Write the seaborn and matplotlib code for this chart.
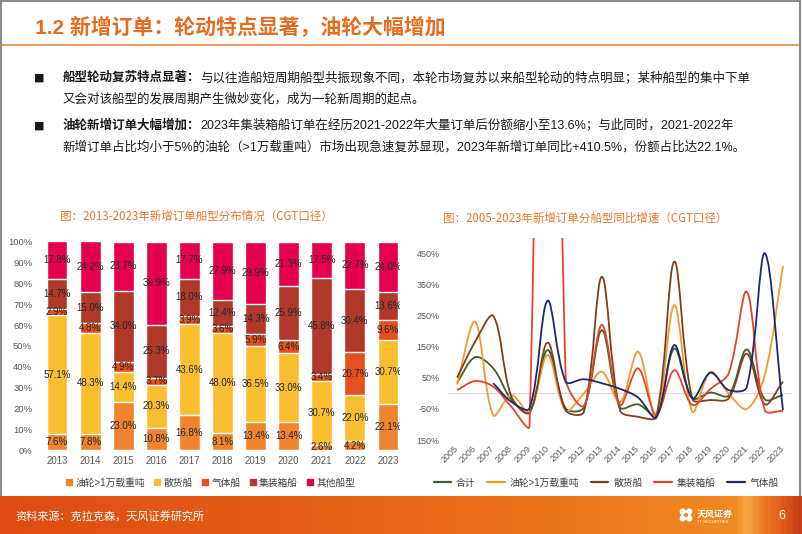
import numpy as np
import matplotlib
matplotlib.use("Agg")
import matplotlib.pyplot as plt
from matplotlib.path import Path
from matplotlib.patches import PathPatch, Rectangle, Ellipse
from matplotlib.lines import Line2D
from matplotlib.colors import LinearSegmentedColormap
import seaborn as sns

# ---- left chart: share of new orders by ship type (CGT, %) ----
share_years = ["2013", "2014", "2015", "2016", "2017", "2018",
               "2019", "2020", "2021", "2022", "2023"]
share_tanker = [7.6, 7.8, 23.0, 10.8, 16.8, 8.1, 13.4, 13.4, 2.6, 4.2, 22.1]
share_bulk = [57.1, 48.3, 14.4, 20.3, 43.6, 48.0, 36.5, 33.0, 30.7, 22.0, 30.7]
share_gas = [2.9, 4.8, 4.9, 3.7, 3.9, 3.6, 5.9, 6.4, 3.4, 20.7, 9.6]
share_container = [14.7, 15.0, 34.0, 25.3, 18.0, 12.4, 14.3, 25.9, 45.8, 30.4, 13.6]
share_other = [17.8, 24.2, 23.7, 39.9, 17.7, 27.9, 29.9, 21.3, 17.5, 22.7, 24.0]
share_names = ["油轮>1万载重吨", "散货船", "气体船", "集装箱船", "其他船型"]
share_ticks = [0, 10, 20, 30, 40, 50, 60, 70, 80, 90, 100]

# ---- right chart: yoy growth of new orders by ship type (CGT, %) ----
growth_years = ["2005", "2006", "2007", "2008", "2009", "2010", "2011",
                "2012", "2013", "2014", "2015", "2016", "2017", "2018",
                "2019", "2020", "2021", "2022", "2023"]
growth_total = [35, 117, 81, -20, -61, 140, -48, -46, 204, -45, -35,
                -70, 145, -16, 3, -7, 142, -19, -5]
growth_tanker = [29, 231, -70, -5, -59, 124, -55, 0, 70, -29, 135,
                 -80, 285, -59, 70, 0, -50, 60, 410.5]
growth_bulk = [51, 167, 250, -10, -62, 164, -54, -60, 376, -54, -75,
               -75, 425, -18, -21, -16, 128, -35, 38]
growth_container = [11, 40, 22, -43, -105, 4000, 50, -40, 221, -37, 81,
                    -69, 75, -37, 15, 65, 328, -54, -56]
growth_gas = [np.nan, np.nan, 33, -27, -48, 299, 38, 46, 33, 15, -13,
              -77, 156, -16, 67, 11, 20, 452, -54]
growth_names = ["合计", "油轮>1万载重吨", "散货船", "集装箱船", "气体船"]
growth_ticks = [-150, -50, 50, 150, 250, 350, 450]
growth_ticklabels = ["150%", "-50%", "50%", "150%", "250%", "350%", "450%"]

share_colors = ["#F0832E", "#FBBE30", "#E5501F", "#B0392B", "#E5004E"]
growth_colors = ["#3E5F2C", "#F59A2F", "#7E3F1D", "#E5432A", "#1D2B6C"]
ORANGE = "#E46C1E"
TICK = "#595959"

sns.set_style("white")
plt.rcParams["font.family"] = ["Liberation Sans", "Noto Sans CJK SC", "DejaVu Sans"]

W, H = 802, 534
fig = plt.figure(figsize=(W / 100, H / 100), dpi=100)


def fx(x):
    return x / W


def fy(y):
    return 1 - y / H


# ---- header ----
fig.text(fx(35), fy(28), "1.2 新增订单：轮动特点显著，油轮大幅增加", fontsize=15,
         color=ORANGE, fontweight="bold", va="center", ha="left")
fig.add_artist(Line2D([0, fx(800)], [fy(44.5), fy(44.5)], color="#E8853F", lw=1.2))

renderer = fig.canvas.get_renderer()
body = [
    (77.7, "船型轮动复苏特点显著：",
     "与以往造船短周期船型共振现象不同，本轮市场复苏以来船型轮动的特点明显；某种船型的集中下单"),
    (99.0, "", "又会对该船型的发展周期产生微妙变化，成为一轮新周期的起点。"),
    (125.3, "油轮新增订单大幅增加：",
     "2023年集装箱船订单在经历2021-2022年大量订单后份额缩小至13.6%；与此同时，2021-2022年"),
    (147.3, "", "新增订单占比均小于5%的油轮（>1万载重吨）市场出现急速复苏显现，2023年新增订单同比+410.5%，份额占比达22.1%。"),
]
for y, bold, rest in body:
    x = fx(62.5)
    if bold:
        fig.text(fx(34), fy(y), "■", fontsize=8, color="#1A1A1A", va="center",
                 family="DejaVu Sans")
        t = fig.text(x, fy(y), bold, fontsize=9, fontweight="bold", color="#1A1A1A", va="center")
        x = t.get_window_extent(renderer).x1 / W
    fig.text(x, fy(y), rest, fontsize=9, color="#1A1A1A", va="center")

# ---- left chart: stacked bars ----
ax1 = fig.add_axes([fx(40.5), 1 - 450 / H, 364 / W, 208.3 / H])
layers = [share_tanker, share_bulk, share_gas, share_container, share_other]
cum = np.cumsum(layers, axis=0)
for k in range(len(layers) - 1, -1, -1):
    sns.barplot(x=share_years, y=cum[k], color=share_colors[k], width=0.63,
                saturation=1, errorbar=None, ax=ax1, zorder=2)
for i in range(len(share_years)):
    base = 0
    for k in range(len(layers)):
        v = layers[k][i]
        ax1.text(i, base + v / 2, f"{v:.1f}%", ha="center", va="center",
                 fontsize=7, color="#262626", zorder=3, clip_on=True)
        base += v
ax1.set_xlim(-0.5, 10.5)
ax1.set_ylim(0, 100)
ax1.set_yticks(share_ticks)
ax1.set_yticklabels([f"{t}%" for t in share_ticks])
ax1.set_xlabel("")
ax1.set_ylabel("")
ax1.tick_params(axis="y", length=0, pad=6, labelsize=6.8, labelcolor=TICK)
ax1.tick_params(axis="x", length=0, pad=4, labelsize=7, labelcolor=TICK)
for s in ax1.spines.values():
    s.set_visible(False)
sq = [Line2D([], [], marker="s", ls="", markersize=5, color=c) for c in share_colors]
ax1.legend(sq, share_names, loc="center", bbox_to_anchor=(0.468, -0.157), ncol=5,
           frameon=False, fontsize=7, handlelength=0.7, handletextpad=0.3,
           columnspacing=0.9, labelcolor="#404040")

fig.text(fx(196.5), fy(216.7), "图：2013-2023年新增订单船型分布情况（CGT口径）",
         fontsize=8.3, color="#E8782A", ha="center", va="center",
         family=["Noto Sans CJK SC", "DejaVu Sans"])

# white panel of the right chart covers the overflow of the left one
fig.add_artist(Rectangle((fx(400), fy(496)), fx(400), 300 / H, facecolor="white",
                         edgecolor="none", zorder=1))

# ---- right chart: smoothed growth lines ----
ax2 = fig.add_axes([fx(448), 1 - 440 / H, 344 / W, 201.6 / H], zorder=3)
ax2.set_facecolor("none")
ax2.set_xlim(-0.5, 18.5)
ax2.set_ylim(-150, 500)
ax2.axhline(0, color="#D9D9E4", lw=0.9, zorder=1)


def smooth_path(ax, xs, ys):
    pts = ax.transData.transform(np.column_stack([xs, ys]))
    n = len(pts)
    verts = [pts[0]]
    codes = [Path.MOVETO]
    for i in range(n - 1):
        p0, p1 = pts[max(i - 1, 0)], pts[i]
        p2, p3 = pts[i + 1], pts[min(i + 2, n - 1)]
        d01 = np.hypot(*(p1 - p0))
        d12 = np.hypot(*(p2 - p1))
        d23 = np.hypot(*(p3 - p2))
        c1 = p1 + (p2 - p0) * d12 / (d01 + d12) / 3
        c2 = p2 - (p3 - p1) * d12 / (d12 + d23) / 3
        verts += [c1, c2, p2]
        codes += [Path.CURVE4] * 3
    return Path(ax.transData.inverted().transform(np.array(verts)), codes)


series = [growth_total, growth_tanker, growth_bulk, growth_container, growth_gas]
xpos = np.arange(len(growth_years))
for vals, c in zip(series, growth_colors):
    vals = np.asarray(vals, dtype=float)
    ok = ~np.isnan(vals)
    ax2.add_patch(PathPatch(smooth_path(ax2, xpos[ok], vals[ok]), facecolor="none",
                            edgecolor=c, lw=1.3, zorder=2))

ax2.set_yticks(growth_ticks)
ax2.set_yticklabels(growth_ticklabels)
ax2.set_xticks(xpos)
ax2.set_xticklabels(growth_years, rotation=45, ha="right", va="center",
                    rotation_mode="anchor")
ax2.tick_params(axis="y", length=0, pad=6, labelsize=6.5, labelcolor=TICK)
ax2.tick_params(axis="x", length=0, pad=5, labelsize=6.5, labelcolor=TICK)
for s in ax2.spines.values():
    s.set_visible(False)
lh = [Line2D([], [], color=c, lw=1.6) for c in growth_colors]
ax2.legend(lh, growth_names, loc="center", bbox_to_anchor=(0.46, -0.212), ncol=5,
           frameon=False, fontsize=7, handlelength=1.8, handletextpad=0.5,
           columnspacing=1.2, labelcolor="#404040")

fig.text(fx(585.5), fy(218), "图：2005-2023年新增订单分船型同比增速（CGT口径）",
         fontsize=8.3, color="#E8782A", ha="center", va="center",
         family=["Noto Sans CJK SC", "DejaVu Sans"])

# ---- frame and footer ----
fig.add_artist(Rectangle((fx(0.75), 0), fx(799.5), 1 - 0.75 / H, facecolor="none",
                         edgecolor="#8A8A8A", lw=1.5, zorder=4))
axf = fig.add_axes([0, 0, 1, 38 / H], zorder=5)
cmap = LinearSegmentedColormap.from_list(
    "band", [(0, "#DE4C14"), (0.55, "#E9681A"), (0.92, "#F08A22"), (0.935, "#F6A640"),
             (0.955, "#EC7A22"), (0.975, "#E2601C"), (1, "#C8401A")])
axf.imshow(np.linspace(0, 1, 400)[None, :], aspect="auto", cmap=cmap,
           extent=[0, W, 0, 38])
axf.set_xlim(0, W)
axf.set_ylim(0, 38)
axf.axis("off")
for dx, dy, a in [(-3, 3, 30), (3, 3, -30), (-3, -3, -30), (3, -3, 30)]:
    axf.add_patch(Ellipse((686 + dx, 19 + dy), 5, 6, angle=a, color="white"))
axf.add_patch(Ellipse((686, 19), 3, 3, color="#F08A22"))
fig.text(fx(697), fy(514), "天风证券", fontsize=6.5, color="white", fontweight="bold",
         va="center", zorder=6)
fig.text(fx(697), fy(522), "TF SECURITIES", fontsize=3, color="white", va="center", zorder=6)
fig.text(fx(15), fy(516), "资料来源：克拉克森，天风证券研究所", fontsize=8, color="white",
         va="center", zorder=6)
fig.text(fx(778), fy(516), "6", fontsize=9, color="white", va="center", zorder=6)

fig.savefig("out.png", dpi=100)
